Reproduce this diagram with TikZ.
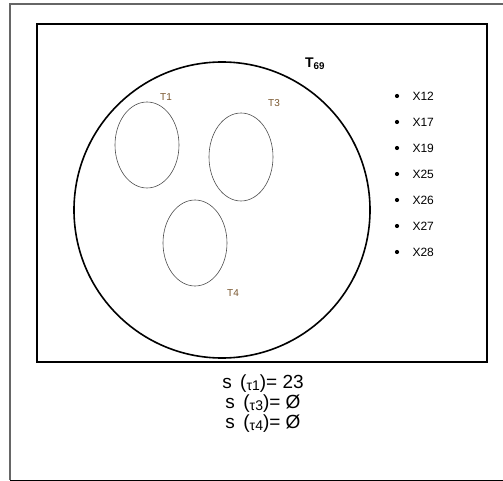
\documentclass[tikz,border=0pt]{standalone}
\usepackage{fontspec}
\setmainfont{Liberation Sans}
\usepackage{tikz}
\definecolor{tbrown}{RGB}{120,85,45}

\begin{document}
\begin{tikzpicture}[x=1pt,y=-1pt,
    tlabel/.style={font=\fontsize{10}{10}\selectfont, text=tbrown},
    item/.style={font=\fontsize{12}{12}\selectfont, anchor=west},
    eqn/.style={font=\fontsize{19}{19}\selectfont}]
      \useasboundingbox (0,0) rectangle (503,481);
      \draw[gray!80!black, line width=1.5pt] (10,480) -- (10,4) -- (510,4);
      \draw[black!80!black, line width=0.8pt] (10,480) -- (503,480);
      \draw[line width=2.2pt] (37,24) rectangle (487,362);
      \draw[line width=1.6pt] (222,210) circle (148pt);
      \draw[gray!60!black, line width=0.6pt] (147,145) ellipse (32pt and 43pt);
      \draw[gray!60!black, line width=0.6pt] (241,157) ellipse (32pt and 44pt);
      \draw[gray!60!black, line width=0.6pt] (195,243) ellipse (32pt and 43pt);
      \node[tlabel] (t1) at (166,97){T1};
      \node[tlabel] (t3) at (274,103){T3};
      \node[tlabel] (t4) at (233,293){T4};
      \node[font=\fontsize{14}{14}\selectfont\bfseries] (t69) at (315,64){T\textsubscript{69}};
      \foreach \x [count=\i from 0] in {12,17,19,25,26,27,28}{
        \fill (397,96+26*\i) circle (2.1pt);
        \node[item] (x\x) at (409,96+26*\i){X\x};
      }
      \node[eqn] (s1) at (263,384){s\, (\raisebox{-1.5pt}{\fontsize{14}{14}\selectfont τ1})= 23};
      \node[eqn] (s3) at (263,404){s\, (\raisebox{-1.5pt}{\fontsize{14}{14}\selectfont τ3})= Ø};
      \node[eqn] (s4) at (263,424){s\, (\raisebox{-1.5pt}{\fontsize{14}{14}\selectfont τ4})= Ø};
    \end{tikzpicture}
\end{document}
